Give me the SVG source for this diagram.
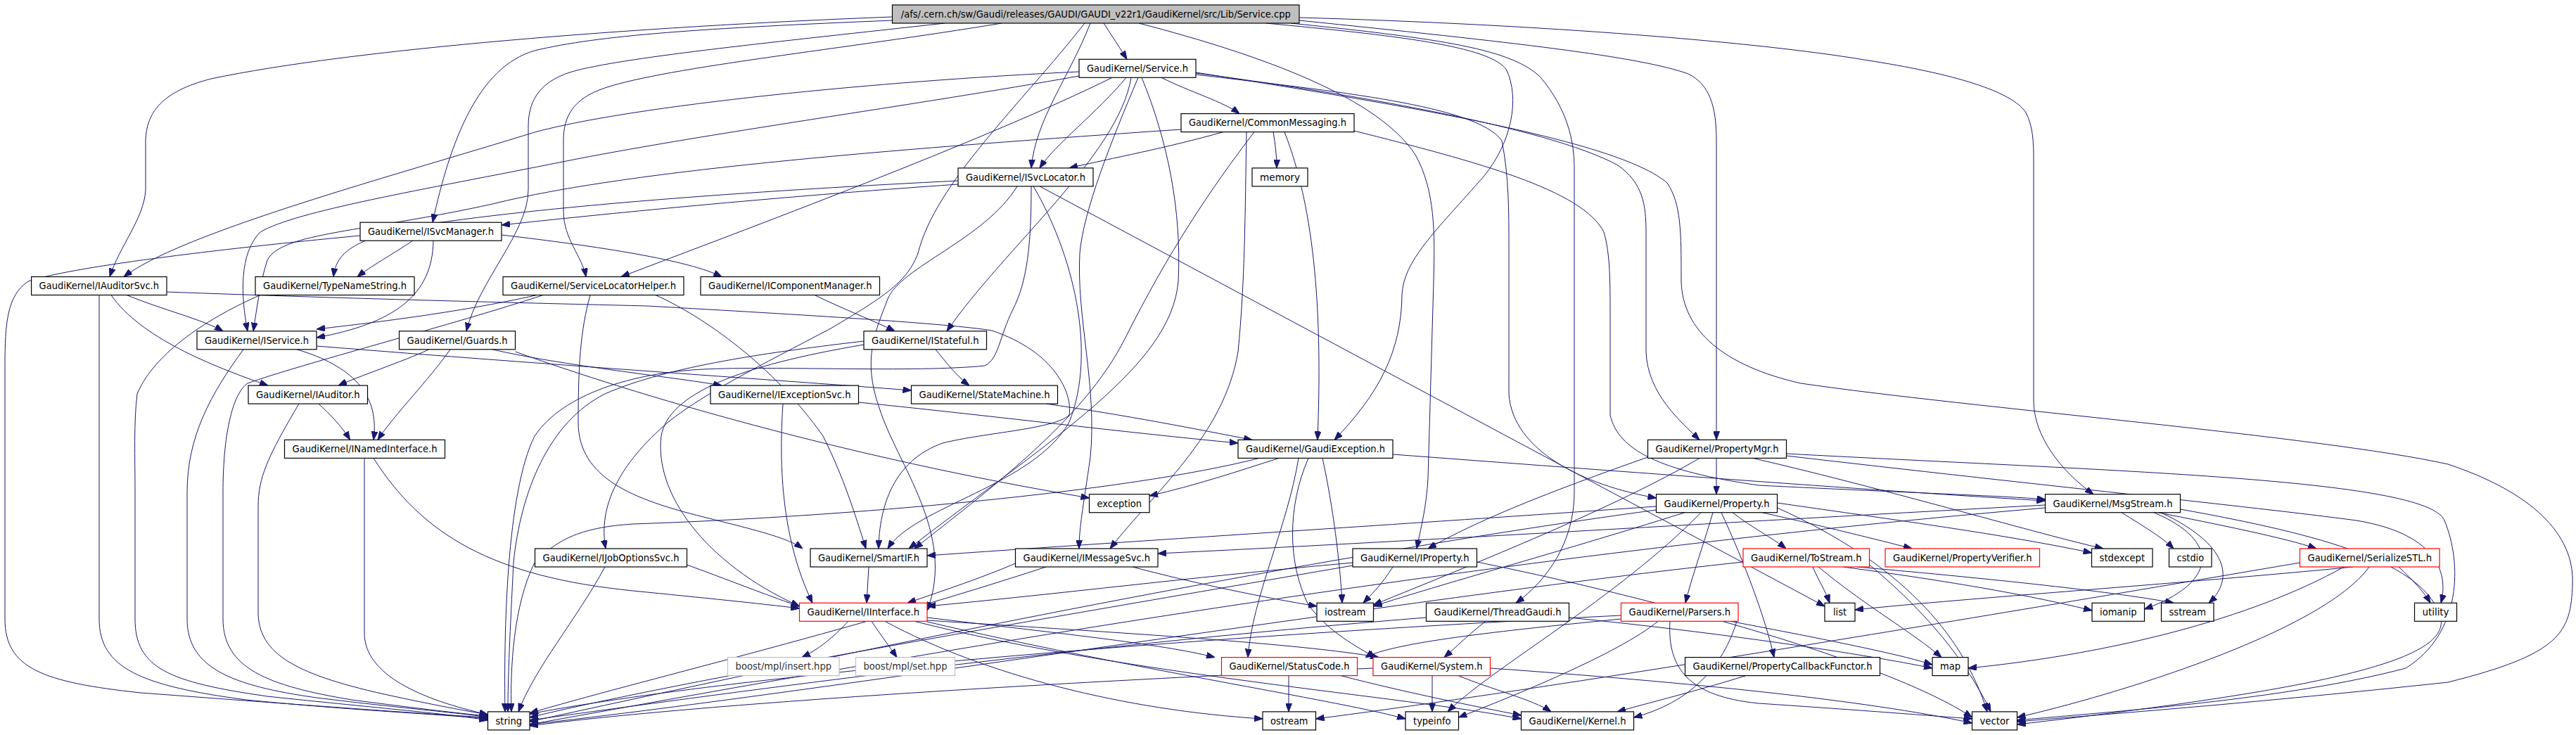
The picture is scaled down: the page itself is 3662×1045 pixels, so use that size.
<svg xmlns="http://www.w3.org/2000/svg" width="3662" height="1045" viewBox="0 0 3662 1045">
<style>
.n rect{fill:#fff;stroke:#000;stroke-width:1.2}
.n.r rect{stroke:#f00}
.n.g rect{stroke:#bfbfbf}
.n.root rect{fill:#bfbfbf}
.n text{font-family:"DejaVu Sans Condensed","DejaVu Sans",sans-serif;font-size:13.5px;fill:#000;text-anchor:middle}
.n.g text{fill:#333}
#edges path{fill:none;stroke:#191970;stroke-width:1;marker-end:url(#a)}
</style>
<defs>
<marker id="a" viewBox="0 0 12 9" refX="12" refY="4.5" markerWidth="12" markerHeight="9" markerUnits="userSpaceOnUse" orient="auto"><path d="M0,0 L12,4.5 L0,9 Z" fill="#191970" stroke="#191970"/></marker>
</defs>
<rect width="3662" height="1045" fill="#fff"/>
<g id="edges">
<path d="M1569,33 C1580,50 1592,68 1602,84.3"/>
<path d="M1550,33 C1520,110 1472,170 1466,238.9"/>
<path d="M1268.5,29 C1000,40 850,50 760,72 C680,95 640,200 615,316.2"/>
<path d="M1268.5,24 C900,38 500,70 300,112 C230,130 208,160 207,200 L207,270 C205,310 170,350 156,393.5"/>
<path d="M1424,33 C1200,70 950,95 860,125 C815,140 801,165 801,200 L801,300 C801,340 828,365 833,393.5"/>
<path d="M1343,33 C1100,60 900,80 820,100 C770,113 751,140 751,180 L751,270 C751,330 680,400 663,470.8"/>
<path d="M1542,33 C1450,150 1330,260 1305,360 C1290,400 1260,420 1181,467 C1080,520 1000,560 950,600 C880,660 850,720 861,780"/>
<path d="M1800,33 C1980,50 2120,65 2142,100 C2160,140 2150,200 2110,250 C2040,330 1995,370 1993,420 C1992,500 1960,560 1897,625.4"/>
<path d="M1847,29 C2150,60 2330,80 2400,105 C2430,120 2440,150 2440,200 L2440,625.4"/>
<path d="M1835,33 C2050,55 2150,70 2190,110 C2228,155 2238,200 2238,240 L2238,700 C2238,770 2200,825 2155,857.3"/>
<path d="M1847,25 C2200,35 2500,60 2650,85 C2780,105 2860,130 2880,160 C2890,180 2891,200 2891,230 L2891,570 C2891,620 2930,670 2976,702.7"/>
<path d="M1619,33 C1800,80 1960,140 2012,220 C2040,270 2040,330 2038,400 L2030,680 C2028,720 2020,750 2014,780"/>
<path d="M1651,110.3 C1690,130 1740,145 1762,161.6"/>
<path d="M1601,110.3 C1560,160 1500,205 1478,238.9"/>
<path d="M1534,102 C1250,115 900,150 760,188 C560,250 260,330 176,393.5"/>
<path d="M1534,108 C1300,150 1000,190 800,230 C600,270 420,300 370,330 C340,360 342,420 352,470.8"/>
<path d="M1581,110.3 C1400,200 1050,330 883,393.5"/>
<path d="M1608,110.3 C1590,220 1430,350 1346,470.8"/>
<path d="M1618,110.3 C1580,200 1540,300 1535,360 C1530,450 1560,550 1550,650 C1540,720 1534,750 1534,780"/>
<path d="M1623,110.3 C1660,200 1680,300 1675,400 C1665,520 1500,620 1292,780"/>
<path d="M1700,106 C1900,130 2100,150 2135,200 C2145,250 2145,300 2145,350 L2145,560 C2150,640 2250,690 2354.5,708"/>
<path d="M1700,104 C1900,130 2200,180 2300,235 C2335,260 2340,290 2340,330 L2340,500 C2342,560 2390,600 2416,625.4"/>
<path d="M1700,103 C2000,150 2300,200 2370,260 C2390,290 2390,330 2390,400 C2392,470 2450,520 2560,545 C2800,580 3300,620 3480,660 C3600,700 3660,760 3657,830 C3655,900 3640,930 3480,970 C3200,1000 3000,1015 2867.5,1026"/>
<path d="M1679,184 C1300,210 900,240 700,290 C520,330 400,330 380,370 C370,400 365,440 360,470.8"/>
<path d="M1739,187.6 C1660,210 1580,225 1520,238.9"/>
<path d="M1772,187.6 C1770,300 1770,400 1760,500 C1740,620 1640,700 1578,780"/>
<path d="M1925,186 C2100,230 2250,270 2280,330 C2289,360 2289,400 2289,450 L2289,590 C2300,640 2360,670 2500,690 C2700,700 2850,705 2907.5,710"/>
<path d="M1783,187.6 C1720,270 1660,360 1600,480 C1540,600 1400,700 1300,780"/>
<path d="M1826,187.6 C1870,300 1880,450 1873,625.4"/>
<path d="M1810,187.6 C1813,205 1815,222 1815,238.9"/>
<path d="M1362,262 C1100,280 850,305 713,320"/>
<path d="M1362,257 C1100,270 800,290 600,320 C500,340 478,360 474,393.5"/>
<path d="M1478,264.9 L2594,862"/>
<path d="M1466,264.9 C1466,350 1460,400 1440,440 C1420,480 1420,510 1400,520 C1300,530 1100,520 1000,525 C900,530 800,560 760,620 C720,700 716,900 718,1011.9"/>
<path d="M1446,264.9 C1400,340 1280,380 1262,425 C1245,470 1225,510 1250,580 C1275,660 1360,760 1318,868"/>
<path d="M1469,264.9 C1525,360 1560,500 1520,600 C1470,690 1300,720 1262,780"/>
<path d="M713,334 C850,350 980,370 1026,393.5"/>
<path d="M587,342.2 C560,360 525,380 508,393.5"/>
<path d="M616,342.2 C615,420 560,460 450,480"/>
<path d="M512,335 C300,355 100,380 40,400 C10,420 7,460 7,520 L7,880 C7,950 60,970 200,985 C400,1000 600,1015 693.5,1020"/>
<path d="M180,419.5 C230,440 290,455 317,470.8"/>
<path d="M158,419.5 C200,480 300,520 381,548.1"/>
<path d="M141,419.5 L141,880 C141,950 200,975 350,995 C500,1010 620,1015 693.5,1022"/>
<path d="M237,415 C500,425 800,432 920,435 C1150,448 1350,460 1410,470 C1500,500 1525,560 1520,590 C1500,610 1400,615 1340,630 C1270,655 1250,720 1249,780"/>
<path d="M370,419.5 C300,450 220,500 195,560 C190,600 192,650 192,700 L192,880 C192,950 240,970 380,990 C520,1005 640,1015 693.5,1024"/>
<path d="M763,419.5 C650,445 520,460 450,468"/>
<path d="M772,419.5 C650,460 420,520 352,545 C330,560 317,620 317,700 L317,880 C317,950 380,975 500,995 C600,1008 660,1015 693.5,1018"/>
<path d="M839,419.5 C825,470 822,520 822,600 C822,680 900,710 1000,735 C1080,755 1120,765 1141,780"/>
<path d="M932,419.5 C1000,450 1100,520 1170,620 C1200,680 1215,730 1231,780"/>
<path d="M1158,419.5 C1200,440 1240,455 1272,470.8"/>
<path d="M422,496.8 C500,520 540,560 531,625.4"/>
<path d="M450,492 C800,520 1100,540 1295.5,555"/>
<path d="M346,496.8 C300,560 266,620 266,700 L266,880 C266,950 330,975 450,992 C580,1008 660,1014 693.5,1020"/>
<path d="M610,496.8 C570,515 510,535 481,548.1"/>
<path d="M640,496.8 C610,540 560,590 537,625.4"/>
<path d="M700,496.8 C800,520 950,535 1026,548.1"/>
<path d="M732.5,500 C900,560 1200,650 1548.5,708"/>
<path d="M1330,496.8 C1345,515 1360,535 1378,548.1"/>
<path d="M1228,490 C1050,520 950,560 940,620 C930,700 1000,800 1136.5,862"/>
<path d="M1228,485 C1100,500 950,520 860,560 C780,600 740,700 730,800 C725,900 722,960 722,1011.9"/>
<path d="M453,574.1 C470,590 485,605 497.6,625.4"/>
<path d="M425,574.1 C380,650 367,680 367,720 L367,870 C367,930 420,960 560,990 C630,1005 670,1012 693.5,1016"/>
<path d="M1113,574.1 C1108,650 1108,760 1155,857.3"/>
<path d="M1220.5,572 C1400,590 1600,615 1760,630"/>
<path d="M1487,574.1 C1600,590 1700,610 1780,625.4"/>
<path d="M518,651.4 L518,900 C518,960 600,995 693.5,1016"/>
<path d="M531,651.4 C600,760 700,820 900,840 C1000,850 1080,858 1136.5,865"/>
<path d="M1818,651.4 C1760,670 1700,690 1634,705"/>
<path d="M1790,651.4 C1600,700 1200,735 900,745 C820,750 790,770 760,800 C730,860 725,950 727,1011.9"/>
<path d="M1980,646 C2300,670 2700,700 2907.5,712"/>
<path d="M1846,651.4 C1830,750 1780,850 1774,934.6"/>
<path d="M1880,651.4 C1895,720 1905,800 1908,857.3"/>
<path d="M1860,651.4 C1830,720 1830,800 1860,860 C1890,900 1930,920 1955,934.6"/>
<path d="M1980,806 C1965,830 1950,845 1938,857.3"/>
<path d="M1923,800 C1700,820 1500,845 1318,862"/>
<path d="M1923,804 C1600,860 1000,960 753,1020"/>
<path d="M2099.5,799 C2400,860 2700,950 2803.5,1020"/>
<path d="M1443.5,801 C1400,820 1340,840 1290,857.3"/>
<path d="M1487,806 C1200,900 900,970 753,1014"/>
<path d="M1610,806 C1700,830 1800,850 1872,862"/>
<path d="M1235,806 L1232,857.3"/>
<path d="M860,806 C820,880 760,950 737,1011.9"/>
<path d="M976.5,803 C1050,830 1100,850 1136.5,862"/>
<path d="M2354.5,720 C2000,745 1600,770 1318,790"/>
<path d="M2354.5,725 C1800,800 1100,950 753,1026"/>
<path d="M2395,728.7 C2200,790 2050,830 1952.5,862"/>
<path d="M2418,728.7 C2300,850 2120,950 2058,1011.9"/>
<path d="M2435,728.7 C2420,780 2405,820 2396,857.3"/>
<path d="M2447,728.7 C2480,800 2510,880 2522,934.6"/>
<path d="M2463,728.7 C2490,750 2520,765 2539,780"/>
<path d="M2505,728.7 C2600,750 2680,770 2718,780"/>
<path d="M2526.5,715 C2700,740 2850,760 2973.5,786"/>
<path d="M2526.5,722 C2700,800 2790,900 2825,1011.9"/>
<path d="M2577,806 C2585,825 2595,840 2601,857.3"/>
<path d="M2585,806 C2650,860 2720,900 2760,934.6"/>
<path d="M2620,806 C2800,830 2900,850 2974,868"/>
<path d="M2640,806 C2800,820 3000,840 3090,857.3"/>
<path d="M2657.5,803 C2750,880 2800,950 2830,1011.9"/>
<path d="M2478,799 C2000,850 1200,980 753,1030"/>
<path d="M2304.5,880 C2100,900 1980,915 1941,934.6"/>
<path d="M2304.5,875 C1800,900 1100,950 753,1015"/>
<path d="M2460,883.3 C2600,910 2700,930 2747,945"/>
<path d="M2374,883.3 C2370,950 2400,990 2500,1000 C2650,1010 2750,1018 2803.5,1022"/>
<path d="M2357,883.3 C2300,930 2150,990 2073.5,1020"/>
<path d="M2036,960.6 L2036,1011.9"/>
<path d="M2073,960.6 C2120,980 2180,995 2205,1011.9"/>
<path d="M1952,950 C1500,970 1000,1000 753,1032"/>
<path d="M2118.5,950 C2400,970 2650,995 2803.5,1028"/>
<path d="M1832,960.6 L1832,1011.9"/>
<path d="M1906,960.6 C2000,985 2100,1005 2162.5,1017"/>
<path d="M2112,883.3 C2090,900 2070,920 2053,934.6"/>
<path d="M2027.5,878 C1500,920 1000,990 753,1024"/>
<path d="M2230.5,878 C2450,900 2650,930 2747,950"/>
<path d="M1206,883.3 C1190,900 1170,920 1140,934.6"/>
<path d="M1239,883.3 C1250,900 1265,920 1275,934.6"/>
<path d="M1258,883.3 C1400,960 1600,1010 1795,1022"/>
<path d="M1318,878 C1500,900 1650,915 1727,934.6"/>
<path d="M1318,882 C1600,900 1850,915 1960,934.6"/>
<path d="M1300,883.3 C1600,960 2000,990 2162.5,1022"/>
<path d="M1318,884 C1600,950 1900,995 1998,1022"/>
<path d="M2907.5,718 C2500,740 2000,770 1646,787"/>
<path d="M2907.5,722 C2000,800 1200,950 753,1030"/>
<path d="M3016,728.7 C3050,750 3075,765 3090,780"/>
<path d="M3062,728.7 C3160,770 3150,830 3048.5,866"/>
<path d="M3072,728.7 C3180,780 3170,830 3140,857.3"/>
<path d="M3068,728.7 C3150,745 3250,765 3293,780"/>
<path d="M3099.5,724 C3300,760 3450,800 3470,880 C3480,940 3300,980 2867.5,1030"/>
<path d="M3269.5,800 C2800,880 2200,980 1870.5,1022"/>
<path d="M3332,806 C3200,880 3000,930 2798,950"/>
<path d="M3345,806 C3100,830 2800,850 2637,867"/>
<path d="M3368,806 C3300,900 3000,990 2867.5,1020"/>
<path d="M3410,806 C3430,825 3445,840 3455,857.3"/>
<path d="M2342.5,650 C2200,700 2100,740 2030,780"/>
<path d="M2416,651.4 C2300,720 2100,800 1952.5,860"/>
<path d="M2440,651.4 L2440,702.7"/>
<path d="M2492,651.4 C2700,700 2900,760 2990,780"/>
<path d="M2539.5,645 C3000,670 3450,680 3475,740 C3500,800 3500,900 3420,950 C3250,995 3000,1012 2867.5,1024"/>
<path d="M2539.5,648 C2900,690 3200,720 3350,740 C3470,760 3480,820 3470,857.3"/>
<path d="M2482,960.6 C2420,980 2360,995 2299,1011.9"/>
<path d="M2470,880 C2450,950 2400,1000 2322.5,1020"/>
</g>
<g id="n_root" class="n root"><rect x="1268.5" y="7" width="578.5" height="26"/><text x="1557.8" y="24.8" textLength="554" lengthAdjust="spacingAndGlyphs">/afs/.cern.ch/sw/Gaudi/releases/GAUDI/GAUDI_v22r1/GaudiKernel/src/Lib/Service.cpp</text></g>
<g id="n_service" class="n"><rect x="1534" y="84.3" width="166" height="26"/><text x="1617" y="102.1" textLength="144" lengthAdjust="spacingAndGlyphs">GaudiKernel/Service.h</text></g>
<g id="n_commonmessaging" class="n"><rect x="1679" y="161.6" width="246" height="26"/><text x="1802" y="179.4" textLength="224" lengthAdjust="spacingAndGlyphs">GaudiKernel/CommonMessaging.h</text></g>
<g id="n_isvclocator" class="n"><rect x="1362" y="238.9" width="192" height="26"/><text x="1458" y="256.7" textLength="170" lengthAdjust="spacingAndGlyphs">GaudiKernel/ISvcLocator.h</text></g>
<g id="n_memory" class="n"><rect x="1780" y="238.9" width="79" height="26"/><text x="1819.5" y="256.7" textLength="57" lengthAdjust="spacingAndGlyphs">memory</text></g>
<g id="n_isvcmanager" class="n"><rect x="512" y="316.2" width="201" height="26"/><text x="612.5" y="334" textLength="179" lengthAdjust="spacingAndGlyphs">GaudiKernel/ISvcManager.h</text></g>
<g id="n_iauditorsvc" class="n"><rect x="44.6" y="393.5" width="192.4" height="26"/><text x="140.8" y="411.3" textLength="170.4" lengthAdjust="spacingAndGlyphs">GaudiKernel/IAuditorSvc.h</text></g>
<g id="n_typenamestring" class="n"><rect x="363" y="393.5" width="226" height="26"/><text x="476" y="411.3" textLength="204" lengthAdjust="spacingAndGlyphs">GaudiKernel/TypeNameString.h</text></g>
<g id="n_servicelocatorhelper" class="n"><rect x="715" y="393.5" width="257" height="26"/><text x="843.5" y="411.3" textLength="235" lengthAdjust="spacingAndGlyphs">GaudiKernel/ServiceLocatorHelper.h</text></g>
<g id="n_icomponentmanager" class="n"><rect x="996" y="393.5" width="254.5" height="26"/><text x="1123.3" y="411.3" textLength="232.5" lengthAdjust="spacingAndGlyphs">GaudiKernel/IComponentManager.h</text></g>
<g id="n_iservice" class="n"><rect x="280" y="470.8" width="170" height="26"/><text x="365" y="488.6" textLength="148" lengthAdjust="spacingAndGlyphs">GaudiKernel/IService.h</text></g>
<g id="n_guards" class="n"><rect x="567.5" y="470.8" width="165" height="26"/><text x="650" y="488.6" textLength="143" lengthAdjust="spacingAndGlyphs">GaudiKernel/Guards.h</text></g>
<g id="n_istateful" class="n"><rect x="1228" y="470.8" width="174.5" height="26"/><text x="1315.3" y="488.6" textLength="152.5" lengthAdjust="spacingAndGlyphs">GaudiKernel/IStateful.h</text></g>
<g id="n_iauditor" class="n"><rect x="353" y="548.1" width="169.5" height="26"/><text x="437.8" y="565.9" textLength="147.5" lengthAdjust="spacingAndGlyphs">GaudiKernel/IAuditor.h</text></g>
<g id="n_iexceptionsvc" class="n"><rect x="1010" y="548.1" width="210.5" height="26"/><text x="1115.3" y="565.9" textLength="188.5" lengthAdjust="spacingAndGlyphs">GaudiKernel/IExceptionSvc.h</text></g>
<g id="n_statemachine" class="n"><rect x="1295.5" y="548.1" width="208" height="26"/><text x="1399.5" y="565.9" textLength="186" lengthAdjust="spacingAndGlyphs">GaudiKernel/StateMachine.h</text></g>
<g id="n_inamedinterface" class="n"><rect x="404.5" y="625.4" width="228" height="26"/><text x="518.5" y="643.2" textLength="206" lengthAdjust="spacingAndGlyphs">GaudiKernel/INamedInterface.h</text></g>
<g id="n_gaudiexception" class="n"><rect x="1760" y="625.4" width="220" height="26"/><text x="1870" y="643.2" textLength="198" lengthAdjust="spacingAndGlyphs">GaudiKernel/GaudiException.h</text></g>
<g id="n_propertymgr" class="n"><rect x="2342.5" y="625.4" width="197" height="26"/><text x="2441" y="643.2" textLength="175" lengthAdjust="spacingAndGlyphs">GaudiKernel/PropertyMgr.h</text></g>
<g id="n_exception" class="n"><rect x="1548.5" y="702.7" width="85.5" height="26"/><text x="1591.3" y="720.5" textLength="63.5" lengthAdjust="spacingAndGlyphs">exception</text></g>
<g id="n_property" class="n"><rect x="2354.5" y="702.7" width="172" height="26"/><text x="2440.5" y="720.5" textLength="150" lengthAdjust="spacingAndGlyphs">GaudiKernel/Property.h</text></g>
<g id="n_msgstream" class="n"><rect x="2907.5" y="702.7" width="192" height="26"/><text x="3003.5" y="720.5" textLength="170" lengthAdjust="spacingAndGlyphs">GaudiKernel/MsgStream.h</text></g>
<g id="n_ijoboptionssvc" class="n"><rect x="760.5" y="780" width="216" height="26"/><text x="868.5" y="797.8" textLength="194" lengthAdjust="spacingAndGlyphs">GaudiKernel/IJobOptionsSvc.h</text></g>
<g id="n_smartif" class="n"><rect x="1152" y="780" width="166" height="26"/><text x="1235" y="797.8" textLength="144" lengthAdjust="spacingAndGlyphs">GaudiKernel/SmartIF.h</text></g>
<g id="n_imessagesvc" class="n"><rect x="1443.5" y="780" width="202.5" height="26"/><text x="1544.8" y="797.8" textLength="180.5" lengthAdjust="spacingAndGlyphs">GaudiKernel/IMessageSvc.h</text></g>
<g id="n_iproperty" class="n"><rect x="1923" y="780" width="176.5" height="26"/><text x="2011.3" y="797.8" textLength="154.5" lengthAdjust="spacingAndGlyphs">GaudiKernel/IProperty.h</text></g>
<g id="n_tostream" class="n r"><rect x="2478" y="780" width="179.5" height="26"/><text x="2567.8" y="797.8" textLength="157.5" lengthAdjust="spacingAndGlyphs">GaudiKernel/ToStream.h</text></g>
<g id="n_propertyverifier" class="n r"><rect x="2680" y="780" width="219.5" height="26"/><text x="2789.8" y="797.8" textLength="197.5" lengthAdjust="spacingAndGlyphs">GaudiKernel/PropertyVerifier.h</text></g>
<g id="n_stdexcept" class="n"><rect x="2973.5" y="780" width="86.5" height="26"/><text x="3016.8" y="797.8" textLength="64.5" lengthAdjust="spacingAndGlyphs">stdexcept</text></g>
<g id="n_cstdio" class="n"><rect x="3083.5" y="780" width="60.5" height="26"/><text x="3113.8" y="797.8" textLength="38.5" lengthAdjust="spacingAndGlyphs">cstdio</text></g>
<g id="n_serializestl" class="n r"><rect x="3269.5" y="780" width="198.5" height="26"/><text x="3368.8" y="797.8" textLength="176.5" lengthAdjust="spacingAndGlyphs">GaudiKernel/SerializeSTL.h</text></g>
<g id="n_iinterface" class="n r"><rect x="1136.5" y="857.3" width="181.5" height="26"/><text x="1227.3" y="875.1" textLength="159.5" lengthAdjust="spacingAndGlyphs">GaudiKernel/IInterface.h</text></g>
<g id="n_iostream" class="n"><rect x="1872" y="857.3" width="80.5" height="26"/><text x="1912.3" y="875.1" textLength="58.5" lengthAdjust="spacingAndGlyphs">iostream</text></g>
<g id="n_threadgaudi" class="n"><rect x="2027.5" y="857.3" width="203" height="26"/><text x="2129" y="875.1" textLength="181" lengthAdjust="spacingAndGlyphs">GaudiKernel/ThreadGaudi.h</text></g>
<g id="n_parsers" class="n r"><rect x="2304.5" y="857.3" width="166.5" height="26"/><text x="2387.8" y="875.1" textLength="144.5" lengthAdjust="spacingAndGlyphs">GaudiKernel/Parsers.h</text></g>
<g id="n_list" class="n"><rect x="2594" y="857.3" width="43" height="26"/><text x="2615.5" y="875.1" textLength="19" lengthAdjust="spacingAndGlyphs">list</text></g>
<g id="n_iomanip" class="n"><rect x="2974" y="857.3" width="74.5" height="26"/><text x="3011.3" y="875.1" textLength="52.5" lengthAdjust="spacingAndGlyphs">iomanip</text></g>
<g id="n_sstream" class="n"><rect x="3072.5" y="857.3" width="74.5" height="26"/><text x="3109.8" y="875.1" textLength="52.5" lengthAdjust="spacingAndGlyphs">sstream</text></g>
<g id="n_utility" class="n"><rect x="3432.5" y="857.3" width="60" height="26"/><text x="3462.5" y="875.1" textLength="38" lengthAdjust="spacingAndGlyphs">utility</text></g>
<g id="n_insert" class="n g"><rect x="1034.5" y="934.6" width="158.5" height="26"/><text x="1113.8" y="952.4" textLength="136.5" lengthAdjust="spacingAndGlyphs">boost/mpl/insert.hpp</text></g>
<g id="n_set" class="n g"><rect x="1216.5" y="934.6" width="141" height="26"/><text x="1287" y="952.4" textLength="119" lengthAdjust="spacingAndGlyphs">boost/mpl/set.hpp</text></g>
<g id="n_statuscode" class="n r"><rect x="1736.5" y="934.6" width="193" height="26"/><text x="1833" y="952.4" textLength="171" lengthAdjust="spacingAndGlyphs">GaudiKernel/StatusCode.h</text></g>
<g id="n_system" class="n r"><rect x="1952" y="934.6" width="166.5" height="26"/><text x="2035.3" y="952.4" textLength="144.5" lengthAdjust="spacingAndGlyphs">GaudiKernel/System.h</text></g>
<g id="n_propertycallbackfunctor" class="n"><rect x="2395.5" y="934.6" width="277" height="26"/><text x="2534" y="952.4" textLength="255" lengthAdjust="spacingAndGlyphs">GaudiKernel/PropertyCallbackFunctor.h</text></g>
<g id="n_map" class="n"><rect x="2747" y="934.6" width="51" height="26"/><text x="2772.5" y="952.4" textLength="29" lengthAdjust="spacingAndGlyphs">map</text></g>
<g id="n_string" class="n"><rect x="693.5" y="1011.9" width="59.5" height="26"/><text x="723.3" y="1029.7" textLength="37.5" lengthAdjust="spacingAndGlyphs">string</text></g>
<g id="n_ostream" class="n"><rect x="1795" y="1011.9" width="75.5" height="26"/><text x="1832.8" y="1029.7" textLength="53.5" lengthAdjust="spacingAndGlyphs">ostream</text></g>
<g id="n_typeinfo" class="n"><rect x="1998" y="1011.9" width="75.5" height="26"/><text x="2035.8" y="1029.7" textLength="53.5" lengthAdjust="spacingAndGlyphs">typeinfo</text></g>
<g id="n_kernel" class="n"><rect x="2162.5" y="1011.9" width="160" height="26"/><text x="2242.5" y="1029.7" textLength="138" lengthAdjust="spacingAndGlyphs">GaudiKernel/Kernel.h</text></g>
<g id="n_vector" class="n"><rect x="2803.5" y="1011.9" width="64" height="26"/><text x="2835.5" y="1029.7" textLength="42" lengthAdjust="spacingAndGlyphs">vector</text></g>
</svg>
